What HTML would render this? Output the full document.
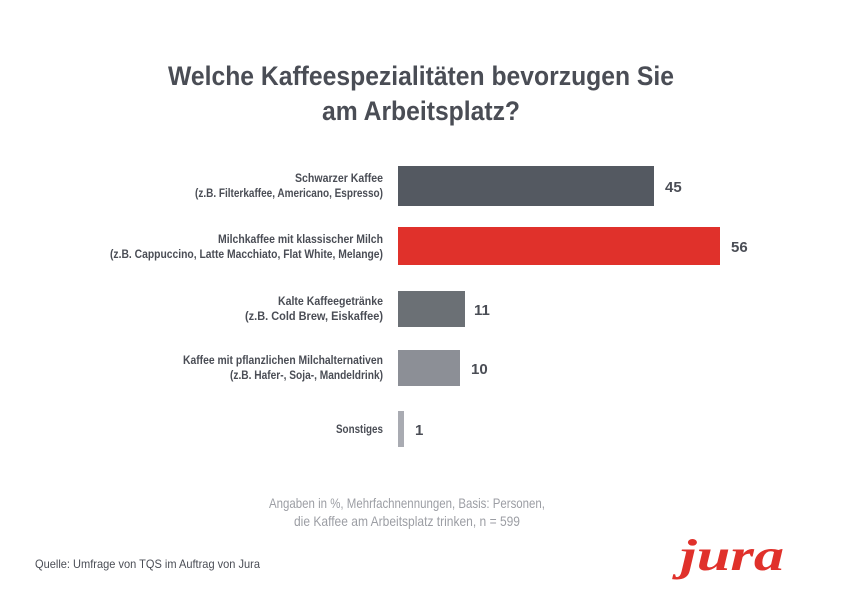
<!DOCTYPE html>
<html><head><meta charset="utf-8"><style>
html,body{margin:0;padding:0;background:#fff;}
svg{display:block;font-family:"Liberation Sans Narrow","Liberation Sans",sans-serif;}
</style></head><body>
<svg width="842" height="596" viewBox="0 0 842 596">
<rect width="842" height="596" fill="#fff"/>
<text x="421" y="85" text-anchor="middle" font-size="27" font-weight="bold" fill="#4a4d55" textLength="506" lengthAdjust="spacingAndGlyphs">Welche Kaffeespezialitäten bevorzugen Sie</text>
<text x="421" y="120" text-anchor="middle" font-size="27" font-weight="bold" fill="#4a4d55" textLength="198" lengthAdjust="spacingAndGlyphs">am Arbeitsplatz?</text>
<g font-size="12" fill="#4a4d55" text-anchor="end" font-weight="bold">
<text x="383" y="182" textLength="88" lengthAdjust="spacingAndGlyphs">Schwarzer Kaffee</text>
<text x="383" y="197" textLength="188" lengthAdjust="spacingAndGlyphs">(z.B. Filterkaffee, Americano, Espresso)</text>
<text x="383" y="243" textLength="165" lengthAdjust="spacingAndGlyphs">Milchkaffee mit klassischer Milch</text>
<text x="383" y="258" textLength="273" lengthAdjust="spacingAndGlyphs">(z.B. Cappuccino, Latte Macchiato, Flat White, Melange)</text>
<text x="383" y="305" textLength="105" lengthAdjust="spacingAndGlyphs">Kalte Kaffeegetränke</text>
<text x="383" y="320" textLength="138" lengthAdjust="spacingAndGlyphs">(z.B. Cold Brew, Eiskaffee)</text>
<text x="383" y="364" textLength="200" lengthAdjust="spacingAndGlyphs">Kaffee mit pflanzlichen Milchalternativen</text>
<text x="383" y="379" textLength="153" lengthAdjust="spacingAndGlyphs">(z.B. Hafer-, Soja-, Mandeldrink)</text>
<text x="383" y="433" textLength="47" lengthAdjust="spacingAndGlyphs">Sonstiges</text>
</g>
<rect x="398" y="166" width="256" height="40" fill="#545961"/>
<rect x="398" y="227" width="322" height="38" fill="#e0312b"/>
<rect x="398" y="291" width="67" height="36" fill="#6b7075"/>
<rect x="398" y="350" width="62" height="36" fill="#8c8f96"/>
<rect x="398" y="411" width="6" height="36" fill="#a9abb2"/>
<g font-size="15" fill="#4a4d55" font-weight="bold">
<text x="665" y="192">45</text>
<text x="731" y="252">56</text>
<text x="474" y="315">11</text>
<text x="471" y="374">10</text>
<text x="415" y="435">1</text>
</g>
<text x="407" y="508" text-anchor="middle" font-size="14" fill="#9c9ea4" textLength="276" lengthAdjust="spacingAndGlyphs">Angaben in %, Mehrfachnennungen, Basis: Personen,</text>
<text x="407" y="526" text-anchor="middle" font-size="14" fill="#9c9ea4" textLength="226" lengthAdjust="spacingAndGlyphs">die Kaffee am Arbeitsplatz trinken, n = 599</text>
<text x="35" y="568" font-size="12" fill="#4a4d55" textLength="225" lengthAdjust="spacingAndGlyphs">Quelle: Umfrage von TQS im Auftrag von Jura</text>
<text x="732" y="570" text-anchor="middle" font-size="44" font-style="italic" font-weight="bold" fill="#e0312b" font-family="Liberation Serif,serif" textLength="104" lengthAdjust="spacingAndGlyphs">jura</text>
</svg>
</body></html>
